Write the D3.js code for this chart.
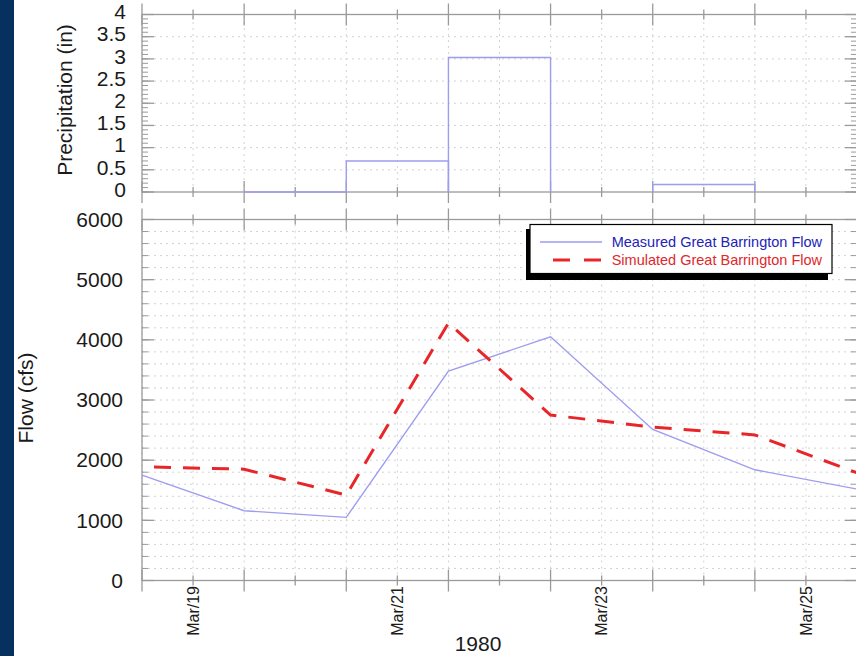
<!DOCTYPE html>
<html>
<head>
<meta charset="utf-8">
<script src="https://cdn.jsdelivr.net/npm/d3@7"></script>
<style>
  html, body { margin: 0; padding: 0; background: #ffffff; }
  svg { display: block; }
  text { font-family: "Liberation Sans", Arial, sans-serif; fill: #1a1a1a; }
</style>
</head>
<body>
<svg id="chart" width="856" height="656"></svg>
<script>
// Daily mean flows, plotted at noon of each day (cfs)
const flowDates = ["1980-03-18T12:00Z", "1980-03-19T12:00Z", "1980-03-20T12:00Z", "1980-03-21T12:00Z",
                   "1980-03-22T12:00Z", "1980-03-23T12:00Z", "1980-03-24T12:00Z", "1980-03-25T12:00Z"];
const measuredFlow  = [1750, 1160, 1050, 3480, 4050, 2510, 1840, 1520];
const simulatedFlow = [1890, 1850, 1420, 4280, 2750, 2550, 2420, 1790];

// Daily precipitation totals, each covering noon to noon (in)
const precipStarts = ["1980-03-19T12:00Z", "1980-03-20T12:00Z", "1980-03-21T12:00Z", "1980-03-23T12:00Z"];
const precipValues = [0, 0.7, 3.03, 0.17];

// Axis ticks and labels
const dateLabelDays = ["1980-03-19T00:00Z", "1980-03-21T00:00Z", "1980-03-23T00:00Z", "1980-03-25T00:00Z"];
const precipTicks = [0, 0.5, 1, 1.5, 2, 2.5, 3, 3.5, 4];
const flowTicks = [0, 1000, 2000, 3000, 4000, 5000, 6000];
const seriesNames = ["Measured Great Barrington Flow", "Simulated Great Barrington Flow"];
const yearLabel = "1980";

const svg = d3.select("#chart");
const axisColor = "#9a9a9a";
const gridColor = "#d2d2d2";
const measuredColor = "#9d9df0";
const simulatedColor = "#e8262a";

// side band
svg.append("rect").attr("x", 0).attr("y", 0).attr("width", 14).attr("height", 656).attr("fill", "#05305f");

const x = d3.scaleUtc()
  .domain([new Date("1980-03-18T12:00Z"), new Date("1980-03-25T12:00Z")])
  .range([142, 857]);

const yP = d3.scaleLinear().domain([0, 4]).range([192, 14.5]);
const yF = d3.scaleLinear().domain([0, 6000]).range([580.5, 219.5]);

const halfDayTicks = d3.utcHour.every(12).range(new Date("1980-03-18T12:00Z"), new Date("1980-03-25T12:01Z"));

function panel(y, majorTicks, minorStep, gridVals) {
  const g = svg.append("g");
  const [y0, y1] = y.range();
  const [x0, x1] = x.range();
  // grid
  g.selectAll(".hg").data(gridVals).join("line")
    .attr("x1", x0).attr("x2", x1).attr("y1", d => y(d)).attr("y2", d => y(d))
    .attr("stroke", gridColor).attr("stroke-width", 1).attr("stroke-dasharray", "2,4");
  g.selectAll(".vg").data(halfDayTicks).join("line")
    .attr("x1", d => x(d)).attr("x2", d => x(d)).attr("y1", y0).attr("y2", y1)
    .attr("stroke", gridColor).attr("stroke-width", 1).attr("stroke-dasharray", "2,4");
  // frame
  g.append("rect").attr("x", x0).attr("y", y1).attr("width", x1 - x0).attr("height", y0 - y1)
    .attr("fill", "none").attr("stroke", axisColor).attr("stroke-width", 1.3);
  // x ticks (top and bottom, both sides)
  [y0, y1].forEach(yy => {
    g.selectAll(null).data(halfDayTicks).join("line")
      .attr("x1", d => x(d)).attr("x2", d => x(d))
      .attr("y1", d => yy - (d.getUTCHours() === 12 ? 11 : 5))
      .attr("y2", d => yy + (d.getUTCHours() === 12 ? 11 : 5))
      .attr("stroke", axisColor).attr("stroke-width", 1.3);
  });
  // y ticks, left and right, inward
  const dom = y.domain();
  const minor = d3.range(dom[0], dom[1] + minorStep / 2, minorStep);
  [[x0, 1], [x1, -1]].forEach(([xx, dir]) => {
    g.selectAll(null).data(minor).join("line")
      .attr("x1", xx).attr("x2", xx + dir * 6).attr("y1", d => y(d)).attr("y2", d => y(d))
      .attr("stroke", axisColor).attr("stroke-width", 1);
    g.selectAll(null).data(majorTicks).join("line")
      .attr("x1", xx).attr("x2", xx + dir * 12).attr("y1", d => y(d)).attr("y2", d => y(d))
      .attr("stroke", axisColor).attr("stroke-width", 1.3);
  });
  return g;
}

// ----- precipitation panel -----
panel(yP, precipTicks, 0.1, precipTicks.slice(1, -1));

const pAxis = svg.append("g").attr("transform", "translate(126,0)")
  .call(d3.axisLeft(yP).tickValues(precipTicks).tickSize(0).tickPadding(0).tickFormat(d => String(d)));
pAxis.select(".domain").remove();
pAxis.selectAll("text").attr("font-size", 21).attr("dy", "0.2em")
  .style("font-family", "'Liberation Sans', Arial, sans-serif").attr("fill", "#1a1a1a");

// step outlines for each day's total
const precipBars = precipStarts.map((s, i) => ({ start: new Date(s), end: d3.utcDay.offset(new Date(s), 1), v: precipValues[i] }));
svg.append("g").selectAll("path").data(precipBars).join("path")
  .attr("d", d => `M${x(d.start)},${yP(0)}V${yP(d.v)}H${x(d.end)}V${yP(0)}`)
  .attr("fill", "none").attr("stroke", measuredColor).attr("stroke-width", 1.4);

svg.append("text").attr("transform", `translate(72,100) rotate(-90)`)
  .attr("text-anchor", "middle").attr("font-size", 21).text("Precipitation (in)");

// ----- flow panel -----
panel(yF, flowTicks, 200, d3.range(200, 6000, 200));

const fAxis = svg.append("g").attr("transform", "translate(123,0)")
  .call(d3.axisLeft(yF).tickValues(flowTicks).tickSize(0).tickPadding(0).tickFormat(d3.format("d")));
fAxis.select(".domain").remove();
fAxis.selectAll("text").attr("font-size", 21)
  .style("font-family", "'Liberation Sans', Arial, sans-serif").attr("fill", "#1a1a1a");

const flowPoints = flowDates.map((d, i) => ({ t: new Date(d), m: measuredFlow[i], s: simulatedFlow[i] }));

svg.append("path").datum(flowPoints)
  .attr("d", d3.line().x(d => x(d.t)).y(d => yF(d.m)))
  .attr("fill", "none").attr("stroke", measuredColor).attr("stroke-width", 1.4);

svg.append("path").datum(flowPoints)
  .attr("d", d3.line().x(d => x(d.t)).y(d => yF(d.s)))
  .attr("fill", "none").attr("stroke", simulatedColor).attr("stroke-width", 3)
  .attr("stroke-dasharray", "17,12").attr("stroke-dashoffset", 17);

// date labels
svg.append("g").selectAll("text").data(dateLabelDays.map(d => new Date(d))).join("text")
  .attr("transform", d => `translate(${x(d)},586) rotate(-90)`)
  .attr("text-anchor", "end").attr("dy", "0.36em").attr("font-size", 16)
  .text(d3.utcFormat("%b/%d"));

svg.append("text").attr("x", 478).attr("y", 651).attr("text-anchor", "middle")
  .attr("font-size", 21).text(yearLabel);

svg.append("text").attr("transform", `translate(33,398) rotate(-90)`)
  .attr("text-anchor", "middle").attr("font-size", 21).text("Flow (cfs)");

// ----- legend -----
const lg = svg.append("g");
lg.append("rect").attr("x", 526).attr("y", 229).attr("width", 302).attr("height", 51).attr("fill", "#000");
lg.append("rect").attr("x", 530).attr("y", 224.5).attr("width", 302).attr("height", 49)
  .attr("fill", "#fff").attr("stroke", "#000").attr("stroke-width", 1.2);
lg.append("line").attr("x1", 540).attr("x2", 602).attr("y1", 242).attr("y2", 242)
  .attr("stroke", measuredColor).attr("stroke-width", 1.4);
lg.append("line").attr("x1", 553).attr("x2", 601).attr("y1", 260).attr("y2", 260)
  .attr("stroke", simulatedColor).attr("stroke-width", 3).attr("stroke-dasharray", "17,14");
lg.append("text").attr("x", 822).attr("y", 247).attr("text-anchor", "end").attr("font-size", 14.5)
  .style("fill", "#2323b8").text(seriesNames[0]);
lg.append("text").attr("x", 822).attr("y", 265).attr("text-anchor", "end").attr("font-size", 14.5)
  .style("fill", "#e0282c").text(seriesNames[1]);
</script>
</body>
</html>
